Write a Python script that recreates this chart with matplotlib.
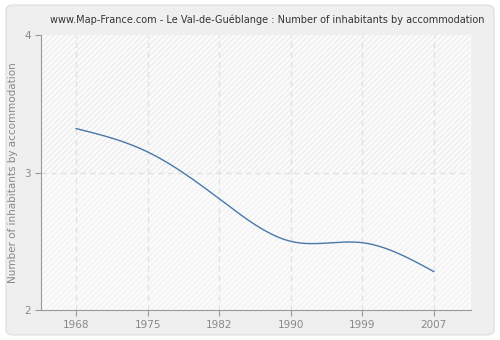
import numpy as np
import matplotlib.pyplot as plt
from matplotlib.patches import FancyBboxPatch, Rectangle

# data
years = [1968, 1975, 1982, 1990, 1999, 2007]
values = [3.32, 3.15, 2.81, 2.50, 2.49, 2.28]
y_ticks = [2, 3, 4]
title = "www.Map-France.com - Le Val-de-Guéblange : Number of inhabitants by accommodation"
y_label = "Number of inhabitants by accommodation"

# natural cubic spline, only used to draw a smooth line through the points
def natural_spline(x, y, xs):
	x = np.asarray(x, float); y = np.asarray(y, float)
	n = len(x)
	h = np.diff(x)
	A = np.zeros((n, n)); r = np.zeros(n)
	A[0, 0] = 1; A[-1, -1] = 1
	for i in range(1, n - 1):
		A[i, i - 1] = h[i - 1]
		A[i, i] = 2 * (h[i - 1] + h[i])
		A[i, i + 1] = h[i]
		r[i] = 3 * ((y[i + 1] - y[i]) / h[i] - (y[i] - y[i - 1]) / h[i - 1])
	c = np.linalg.solve(A, r)
	out = np.empty_like(xs)
	for k, xv in enumerate(xs):
		i = min(np.searchsorted(x, xv, side='right') - 1, n - 2)
		i = max(i, 0)
		d = xv - x[i]
		b = (y[i + 1] - y[i]) / h[i] - h[i] * (2 * c[i] + c[i + 1]) / 3
		dd = (c[i + 1] - c[i]) / (3 * h[i])
		out[k] = y[i] + b * d + c[i] * d ** 2 + dd * d ** 3
	return out

fig = plt.figure(figsize=(5, 3.4), dpi=100)
fig.patch.set_facecolor('white')
bg = FancyBboxPatch((0.012, 0.015), 0.976, 0.97, boxstyle="round,pad=0,rounding_size=0.015",
	transform=fig.transFigure, facecolor='#efefef', edgecolor='#e2e2e2', linewidth=1, zorder=-10)
fig.patches.append(bg)

ax = fig.add_axes([0.082, 0.088, 0.86, 0.809])
ax.set_zorder(1)
ax.set_facecolor('#fbfbfb')
ax.add_patch(Rectangle((-0.5, 3), 6, 1, facecolor='none', edgecolor='#eeeeee', hatch='//////', linewidth=0, zorder=0))
ax.add_patch(Rectangle((-0.5, 2), 6, 1, facecolor='none', edgecolor='#f3f3f3', hatch='//////', linewidth=0, zorder=0))

# years are placed at equal spacing, like categories
pos = np.arange(len(years))
xs = np.linspace(0, len(years) - 1, 400)
ax.plot(xs, natural_spline(pos, values, xs), color='#4a77aa', linewidth=1, zorder=3)

ax.set_xlim(-0.49, len(years) - 0.48)
ax.set_ylim(2, 4)
ax.set_xticks(pos)
ax.set_xticklabels([str(y) for y in years])
ax.set_yticks(y_ticks)
for p in pos:
	ax.axvline(p, color='#e2e2e2', linestyle=(0, (4, 3)), linewidth=1, zorder=1)
ax.axhline(3, color='#e2e2e2', linestyle=(0, (4, 3)), linewidth=1, zorder=1)

for s in ['top', 'right']:
	ax.spines[s].set_visible(False)
for s in ['left', 'bottom']:
	ax.spines[s].set_color('#999999')
ax.tick_params(colors='#999999', labelcolor='#888888', labelsize=7.5, length=4)
ax.set_ylabel(y_label, color='#888888', fontsize=7.5)
ax.set_title(title, color='#333333', fontsize=7, pad=9, x=0.525)

plt.savefig('out.png', dpi=100, facecolor=fig.get_facecolor())
